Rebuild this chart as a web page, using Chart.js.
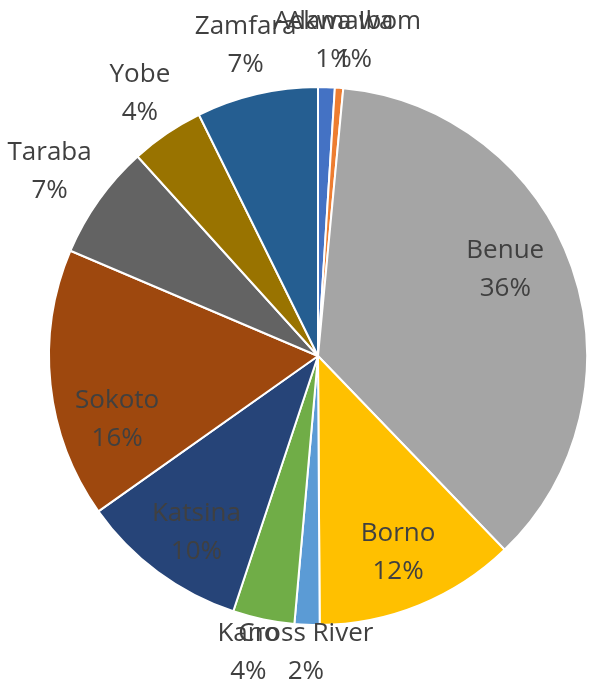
<!DOCTYPE html>
<html>
<head>
<meta charset="utf-8">
<script src="https://cdn.jsdelivr.net/npm/chart.js@4.4.1/dist/chart.umd.min.js"></script>
<style>
  html, body { margin: 0; padding: 0; background: #fff; }
  #wrap { width: 590px; height: 690px; position: relative; }
</style>
</head>
<body>
<div id="wrap"><canvas id="pieChart"></canvas></div>
<script>
const states = ['Adamawa', 'Akwa Ibom', 'Benue', 'Borno', 'Cross River', 'Kano', 'Katsina', 'Sokoto', 'Taraba', 'Yobe', 'Zamfara'];
const shares = [1.0, 0.5, 36.3, 12.1, 1.5, 3.7, 10.1, 16.2, 6.9, 4.4, 7.3];
const sliceColors = ['#4472C4', '#ED7D31', '#A5A5A5', '#FFC000', '#5B9BD5', '#70AD47', '#264478', '#9E480E', '#636363', '#997300', '#255E91'];

// label placement: [radius factor, angle tweak in degrees]
const labelPlace = [
    [1.175, 1], [1.18, 2], [0.766, -5.4], [0.79, 0], [1.105, 0], [1.133, 1.5],
    [0.797, -2], [0.783, -11.4], [1.21, -1], [1.178, 0], [1.184, 0]
];

const pieLabels = {
    id: 'pieLabels',
    afterDatasetsDraw(chart) {
        const ctx = chart.ctx;
        const meta = chart.getDatasetMeta(0);
        const data = chart.data.datasets[0].data;
        const total = data.reduce((a, b) => a + b, 0);
        ctx.save();
        ctx.font = '26px "Open Sans"';
        ctx.fillStyle = '#404040';
        ctx.textAlign = 'center';
        ctx.textBaseline = 'middle';
        meta.data.forEach((arc, i) => {
            const p = arc.getProps(['x', 'y', 'startAngle', 'endAngle', 'outerRadius'], true);
            const a = (p.startAngle + p.endAngle) / 2 + labelPlace[i][1] * Math.PI / 180;
            const r = p.outerRadius * labelPlace[i][0];
            const cx = p.x + Math.cos(a) * r;
            const cy = p.y + Math.sin(a) * r;
            const pct = Math.round(data[i] / total * 100 + 1e-6);
            ctx.fillText(chart.data.labels[i], cx, cy - 19);
            ctx.fillText(pct + '%', cx, cy + 19);
        });
        ctx.restore();
    }
};

new Chart(document.getElementById('pieChart'), {
    type: 'pie',
    data: {
        labels: states,
        datasets: [{
            data: shares,
            backgroundColor: sliceColors,
            borderColor: '#ffffff',
            borderWidth: 2
        }]
    },
    options: {
        responsive: true,
        maintainAspectRatio: false,
        animation: false,
        layout: { padding: { left: 48, right: 2, top: 86, bottom: 64 } },
        plugins: {
            legend: { display: false },
            tooltip: { enabled: false }
        }
    },
    plugins: [pieLabels]
});
</script>
</body>
</html>
